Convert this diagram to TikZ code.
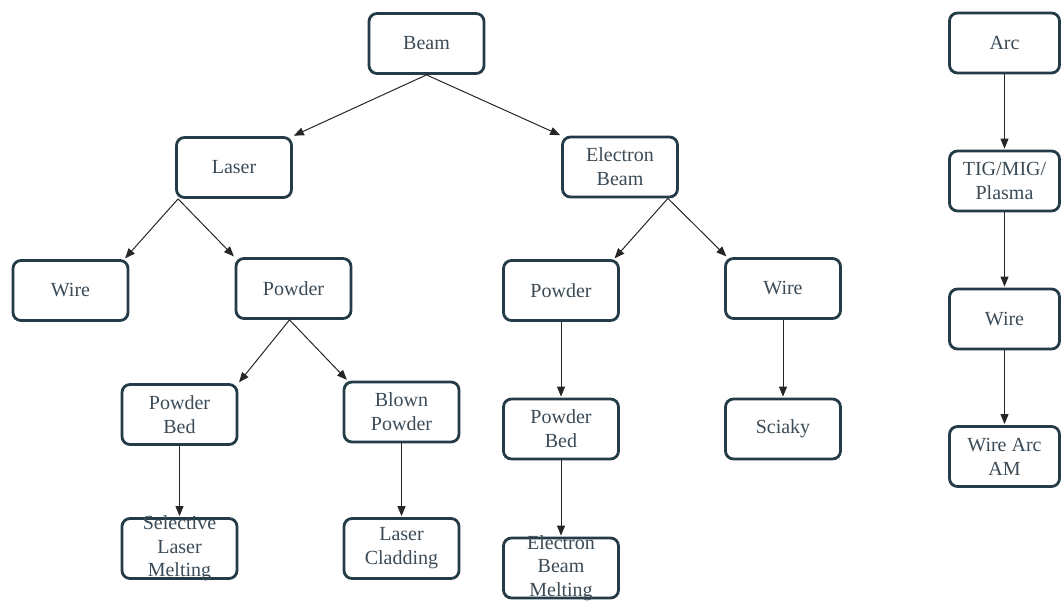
\documentclass[tikz,border=0pt]{standalone}
\usepackage{fontspec}
\setmainfont{Liberation Serif}
\newfontfamily\boxfont{Liberation Serif}
\usetikzlibrary{arrows.meta}
\definecolor{boxline}{HTML}{243B48}
\definecolor{boxtext}{HTML}{3B4B57}
\tikzset{
  box/.style={draw=boxline, line width=2.8pt, rounded corners=8pt, fill=white,
    minimum width=115pt, minimum height=60pt, inner sep=2pt, align=center,
    text=boxtext, font=\boxfont\fontsize{20}{24}\selectfont},
  narrowbox/.style={box, minimum width=110pt},
  boxlabel/.style={text=boxtext, align=center, inner sep=0pt,
    font=\boxfont\fontsize{20}{23.5}\selectfont},
  conn/.style={draw=black!85, line width=1pt,
    -{Triangle[length=10pt,width=8pt]}, shorten >=1pt}
}
\begin{document}
\begin{tikzpicture}[x=1pt,y=-1pt]
\useasboundingbox (0,0) rectangle (1062,601);
% left tree
\node[box] (beam) at (426.5,43.5) {Beam};
\node[box] (laser) at (234,167.5) {Laser};
\node[box] (eb) at (620,167) {Electron\\Beam};
\node[box] (wirel) at (70.5,290.5) {Wire};
\node[box] (powl) at (293.5,288.5) {Powder};
\node[box] (powe) at (561,290.5) {Powder};
\node[box] (wiree) at (783,288.5) {Wire};
\node[box] (pbl) at (179.5,414.5) {Powder\\Bed};
\node[box] (blown) at (401.5,412) {Blown\\Powder};
\node[box] (pbe) at (561,429) {Powder\\Bed};
\node[box] (sciaky) at (783,429) {Sciaky};
\node[box] (slm) at (179.5,548.5) {};
\node[boxlabel] (slmt) at (slm.center) {Selective\\Laser\\Melting};
\node[box] (lc) at (401.5,548.5) {Laser\\Cladding};
\node[box] (ebm) at (561,568) {};
\node[boxlabel] (ebmt) at (ebm.center) {Electron\\Beam\\Melting};
% right column
\node[narrowbox] (arc) at (1004.5,43) {Arc};
\node[narrowbox] (tig) at (1004.5,181) {TIG/MIG/\\Plasma};
\node[narrowbox] (wirea) at (1004.5,319) {Wire};
\node[narrowbox] (waam) at (1004.5,456.5) {Wire Arc\\AM};
% split points
\coordinate (ls) at ([xshift=3pt]laser.south west);
\coordinate (ps) at ([xshift=-4pt]powl.south);
\coordinate (es) at ([xshift=-11pt]eb.south east);
% connectors
\draw[conn] (beam.south) -- (laser.north east);
\draw[conn] (beam.south) -- (eb.north west);
\draw[conn] (ls) -- ([xshift=-5pt]wirel.north east);
\draw[conn] (ls) -- (powl.north west);
\draw[conn] (ps) -- (pbl.north east);
\draw[conn] (ps) -- ([xshift=5pt]blown.north west);
\draw[conn] (es) -- ([xshift=-6pt]powe.north east);
\draw[conn] (es) -- ([xshift=3pt]wiree.north west);
\draw[conn] (pbl.south) -- (slm.north);
\draw[conn] (blown.south) -- (lc.north);
\draw[conn] (powe.south) -- (pbe.north);
\draw[conn] (pbe.south) -- (ebm.north);
\draw[conn] (wiree.south) -- (sciaky.north);
\draw[conn] (arc.south) -- (tig.north);
\draw[conn] (tig.south) -- (wirea.north);
\draw[conn] (wirea.south) -- (waam.north);
\end{tikzpicture}
\end{document}
